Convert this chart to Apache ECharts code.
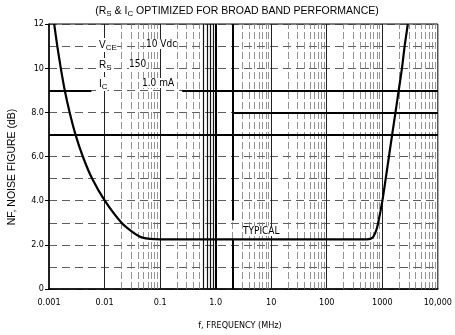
<!DOCTYPE html>
<html>
<head>
<meta charset="utf-8">
<script src="https://cdn.jsdelivr.net/npm/echarts@6/dist/echarts.min.js"></script>
<style>
  html, body { margin: 0; padding: 0; background: #fff; }
  #chart { width: 455px; height: 335px; }
</style>
</head>
<body>
<div id="chart"></div>
<script>
// Noise figure versus frequency (typical), Rs and Ic set for broad-band use
const freqMHz = [0.00124, 0.00141, 0.00163, 0.00192, 0.00235, 0.00299, 0.00406, 0.00597, 0.0101, 0.0202,
  0.033, 0.045, 0.065, 0.1, 1, 10, 100, 400, 520, 620, 690, 780, 844, 1005, 1152, 1318, 1508, 1728, 1977, 2263, 2524, 2884];
const noiseFigure = [12, 11, 10, 9, 8, 7, 6, 5, 4, 3,
  2.55, 2.35, 2.27, 2.25, 2.25, 2.25, 2.25, 2.25, 2.25, 2.28, 2.37, 2.67, 3, 4, 5, 6, 7, 8, 9, 10, 11, 12];

const xTickValues = [0.001, 0.01, 0.1, 1, 10, 100, 1000, 10000];
const xTickLabels = ['0.001', '0.01', '0.1', '1.0', '10', '100', '1000', '10,000'];
const yTickValues = [0, 2, 4, 6, 8, 10, 12];
const yTickLabels = ['0', '2.0', '4.0', '6.0', '8.0', '10', '12'];

const NARROW = '"Liberation Sans Narrow", "DejaVu Sans Condensed", sans-serif';
const WIDE = '"Liberation Sans", Arial, sans-serif';

// log-decade grid lines (2..9 in each decade)
const minorLines = [];
for (let d = -3; d < 4; d++) {
  for (let m = 2; m <= 9; m++) {
    const v = m * Math.pow(10, d);
    const dark = (d === -1 && m >= 6);
    minorLines.push({
      xAxis: v,
      lineStyle: { color: dark ? '#111' : '#777', width: dark ? 1.2 : 0.8, type: dark ? 'solid' : [7, 3] }
    });
  }
}
const decadeLines = [0.01, 0.1, 10, 100, 1000].map(v => ({
  xAxis: v, lineStyle: { color: '#222', width: 1, type: 'solid' }
}));
// heavy rules
const heavyRules = [
  [{ coord: [0.001, 7] }, { coord: [10000, 7] }],
  [{ coord: [0.001, 9] }, { coord: [0.0058, 9] }],
  [{ coord: [0.25, 9] }, { coord: [10000, 9] }],
  [{ coord: [2.07, 8] }, { coord: [10000, 8] }],
  [{ coord: [1, 0] }, { coord: [1, 12] }],
  [{ coord: [2, 0] }, { coord: [2, 2.25] }],
  [{ coord: [2, 3.1] }, { coord: [2, 12] }]
];

const sub = { fontSize: 8, padding: [6, 0, 0, 0], fontFamily: WIDE };

const chart = echarts.init(document.getElementById('chart'), null, { renderer: 'canvas' });
chart.setOption({
  backgroundColor: '#fff',
  animation: false,
  textStyle: { fontFamily: NARROW, color: '#000' },
  grid: { left: 49, right: 9, top: 24, bottom: 46, show: true, borderColor: '#000', borderWidth: 1 },
  xAxis: {
    type: 'log', logBase: 10, min: 0.001, max: 10000,
    axisLine: { show: true, onZero: false, lineStyle: { color: '#000', width: 1.5 } },
    axisTick: { show: false },
    splitLine: { show: false },
    axisLabel: {
      color: '#000', fontSize: 9, fontFamily: NARROW, margin: 9,
      formatter: v => {
        const i = xTickValues.findIndex(t => Math.abs(Math.log10(t) - Math.log10(v)) < 1e-6);
        return i >= 0 ? xTickLabels[i] : '';
      }
    }
  },
  yAxis: {
    type: 'value', min: 0, max: 12, interval: 2,
    axisLine: { show: true, lineStyle: { color: '#000', width: 1.5 } },
    axisTick: { show: true, length: 4, lineStyle: { color: '#000' } },
    splitLine: { show: true, lineStyle: { color: '#333', width: 0.8, type: [8, 5] } },
    minorTick: { show: false, splitNumber: 2 },
    minorSplitLine: { show: true, lineStyle: { color: '#333', width: 0.8, type: [8, 5] } },
    axisLabel: {
      color: '#000', fontSize: 9, fontFamily: NARROW, margin: 5,
      formatter: v => {
        const i = yTickValues.indexOf(Math.round(v));
        return i >= 0 ? yTickLabels[i] : '';
      }
    }
  },
  series: [
    {
      type: 'line',
      data: [],
      silent: true,
      markLine: {
        silent: true, symbol: 'none', label: { show: false }, animation: false,
        data: minorLines.concat(decadeLines)
      }
    },
    {
      type: 'line',
      data: [],
      silent: true,
      markLine: {
        silent: true, symbol: 'none', label: { show: false }, animation: false,
        lineStyle: { color: '#000', width: 2, type: 'solid' },
        data: heavyRules
      }
    },
    {
      type: 'line',
      data: freqMHz.map((f, i) => [f, noiseFigure[i]]),
      showSymbol: false,
      smooth: 0.2,
      lineStyle: { color: '#000', width: 2.2 },
      z: 5
    }
  ],
  graphic: [
    {
      type: 'text', x: 237, y: 4, z: 10,
      style: {
        text: '(R{s|S} & I{s|C} OPTIMIZED FOR BROAD BAND PERFORMANCE)',
        font: '10.5px ' + WIDE, fill: '#000', align: 'center',
        rich: { s: sub }
      }
    },
    {
      type: 'text', x: 99, y: 38, z: 10,
      style: { text: 'V{s|CE}', font: '10px ' + WIDE, fill: '#000', backgroundColor: '#fff', rich: { s: sub } }
    },
    { type: 'text', x: 146, y: 39, z: 10, style: { text: '10 Vdc', font: '10px ' + NARROW, fill: '#000', backgroundColor: '#fff' } },
    {
      type: 'text', x: 99, y: 58, z: 10,
      style: { text: 'R{s|S}', font: '10px ' + WIDE, fill: '#000', backgroundColor: '#fff', rich: { s: sub } }
    },
    { type: 'text', x: 129, y: 59, z: 10, style: { text: '150', font: '10px ' + NARROW, fill: '#000', backgroundColor: '#fff' } },
    {
      type: 'text', x: 99, y: 77, z: 10,
      style: { text: 'I{s|C}', font: '10px ' + WIDE, fill: '#000', backgroundColor: '#fff', rich: { s: sub } }
    },
    { type: 'text', x: 142, y: 78, z: 10, style: { text: '1.0 mA', font: '10px ' + NARROW, fill: '#000', backgroundColor: '#fff' } },
    { type: 'text', x: 243, y: 226, z: 10, style: { text: 'TYPICAL', font: '10px ' + NARROW, fill: '#000', backgroundColor: '#fff' } },
    {
      type: 'text', x: 240, y: 326, z: 10,
      style: { text: 'f, FREQUENCY (MHz)', font: '9px ' + NARROW, fill: '#000', align: 'center', verticalAlign: 'middle' }
    },
    {
      type: 'text', x: 12, y: 167, rotation: Math.PI / 2, z: 10,
      style: { text: 'NF, NOISE FIGURE (dB)', font: '10.5px ' + WIDE, fill: '#000', align: 'center', verticalAlign: 'middle' }
    }
  ]
});
</script>
</body>
</html>
